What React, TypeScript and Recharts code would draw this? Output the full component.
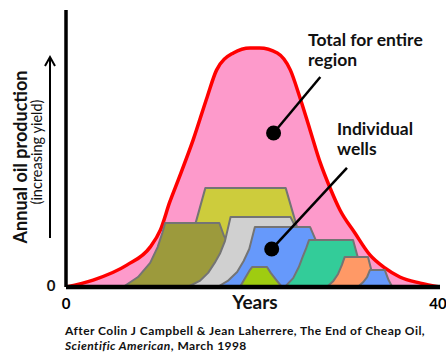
import React from 'react';
import { ComposedChart, Area, XAxis, YAxis, ReferenceLine, ReferenceDot } from 'recharts';

// [year, production] pairs
const totalRegion: number[][] = [
  [0, 0], [2.9, 2.5], [6.5, 7.9], [9.0, 14.4], [10.1, 20.6], [11.1, 30.7], [12.0, 38.6],
  [13.6, 53.1], [15.1, 68.6], [16.1, 78.3], [17.9, 84.5], [19.7, 86.3], [20.7, 86.3],
  [22.6, 84.5], [24.0, 78.3], [25.0, 68.6], [26.1, 56.7], [27.2, 44.8], [28.2, 36.1],
  [29.3, 27.8], [30.9, 19.5], [32.5, 11.6], [34.1, 6.9], [35.7, 3.6], [37.9, 1.4], [40, 0],
];
const yellowWell: number[][] = [[13.6, 19.9], [14.9, 35.7], [23.5, 35.7], [24.7, 21.7], [24.9, 18.8]];
const oliveWell: number[][] = [
  [6.1, 0], [7.7, 3.6], [9.0, 8.7], [9.8, 14.4], [10.3, 19.5], [10.6, 23.1], [16.4, 23.1],
  [16.9, 18.4], [18.6, 9.7], [19.5, 0],
];
const grayWell: number[][] = [
  [13.0, 0], [14.3, 2.2], [15.2, 5.1], [15.9, 8.7], [16.5, 12.3], [17.0, 16.6], [17.3, 20.9],
  [17.6, 25.3], [24.0, 25.3], [24.6, 21.3], [25.0, 17.0],
];
const blueWell: number[][] = [
  [16.2, 0], [17.3, 2.2], [18.3, 5.4], [19.0, 9.4], [19.6, 13.7], [19.9, 17.7], [20.2, 21.7],
  [26.1, 21.7], [26.7, 17.0], [27.4, 11.6], [27.8, 0],
];
const limeWell: number[][] = [
  [18.6, 0], [19.1, 2.9], [19.6, 5.8], [19.9, 7.2], [21.5, 7.2], [21.9, 5.1], [22.5, 2.5], [23.1, 0],
];
const tealWell: number[][] = [
  [23.4, 0], [24.3, 3.2], [24.9, 7.2], [25.3, 10.8], [25.7, 14.1], [26.0, 17.0], [30.7, 17.0],
  [31.2, 10.8], [31.6, 7.2], [31.8, 0],
];
const orangeWell: number[][] = [
  [27.9, 0], [28.6, 2.2], [29.1, 4.7], [29.5, 7.9], [29.8, 10.8], [32.3, 10.8], [32.6, 6.9],
  [32.9, 3.2], [33.2, 0],
];
const lastWell: number[][] = [[31.2, 0], [31.8, 1.8], [32.2, 3.6], [32.5, 6.1], [34.1, 6.1], [34.5, 2.5], [34.9, 0]];

const xTicks = [0, 40];
const totalPointer = { dot: [22.2, 55.6], end: [27.2, 75.8] };
const wellsPointer = { dot: [22.0, 13.7], end: [30.05, 43.0] };

const toRows = (pts: number[][]) => pts.map(([x, y]) => ({ x, y }));

const FONT = 'Lato, "Open Sans", sans-serif';
const OUTLINE = '#747474';

const wells = [
  { name: 'yellow', pts: yellowWell, fill: '#cdcc3c' },
  { name: 'olive', pts: oliveWell, fill: '#9c9a3c' },
  { name: 'gray', pts: grayWell, fill: '#d0d0d0' },
  { name: 'blue', pts: blueWell, fill: '#6699fb' },
  { name: 'lime', pts: limeWell, fill: '#9fcc10' },
  { name: 'teal', pts: tealWell, fill: '#33cc99' },
  { name: 'orange', pts: orangeWell, fill: '#ff9966' },
  { name: 'last', pts: lastWell, fill: '#6699fb' },
];

const XTick = (props: any) => {
  const { x, y, payload } = props;
  return (
    <text x={x} y={y + 22} textAnchor="middle" fontFamily={FONT} fontWeight={700} fontSize={15} fill="#000">
      {payload.value}
    </text>
  );
};

export default function App() {
  return (
    <div style={{ position: 'absolute', left: 0, top: 0, width: 446, height: 353, background: '#fff' }}>
      <ComposedChart width={446} height={353} margin={{ top: 10, right: 6, bottom: 36, left: 56 }}>
        <XAxis
          type="number"
          dataKey="x"
          domain={[0, 40]}
          ticks={xTicks}
          allowDataOverflow
          tickLine={false}
          tickSize={0}
          tickMargin={0}
          height={30}
          axisLine={{ stroke: '#000', strokeWidth: 4.5 }}
          tick={<XTick />}
        />
        <YAxis
          type="number"
          domain={[0, 100]}
          width={10}
          tick={false}
          tickLine={false}
          axisLine={{ stroke: '#000', strokeWidth: 3.5 }}
        />
        <Area
          data={toRows(totalRegion)}
          dataKey="y"
          type="monotone"
          fill="#fd9acb"
          fillOpacity={1}
          stroke="#ff0000"
          strokeWidth={3.5}
          dot={false}
          activeDot={false}
          isAnimationActive={false}
        />
        {wells.map((w) => (
          <Area
            key={w.name}
            data={toRows(w.pts)}
            dataKey="y"
            type="linear"
            fill={w.fill}
            fillOpacity={1}
            stroke={OUTLINE}
            strokeWidth={2}
            strokeLinejoin="round"
            dot={false}
            activeDot={false}
            isAnimationActive={false}
          />
        ))}
        <ReferenceLine
          segment={[{ x: totalPointer.dot[0], y: totalPointer.dot[1] }, { x: totalPointer.end[0], y: totalPointer.end[1] }]}
          stroke="#000"
          strokeWidth={2.5}
        />
        <ReferenceLine
          segment={[{ x: wellsPointer.dot[0], y: wellsPointer.dot[1] }, { x: wellsPointer.end[0], y: wellsPointer.end[1] }]}
          stroke="#000"
          strokeWidth={2.5}
        />
        <ReferenceDot x={totalPointer.dot[0]} y={totalPointer.dot[1]} r={7.5} fill="#000" stroke="none" />
        <ReferenceDot x={wellsPointer.dot[0]} y={wellsPointer.dot[1]} r={7.5} fill="#000" stroke="none" />
      </ComposedChart>
      <svg width={446} height={353} style={{ position: 'absolute', left: 0, top: 0, pointerEvents: 'none' }}>
        <g fontFamily={FONT} fill="#111">
          <text x={308} y={46} fontSize={17.5} fontWeight={700}>Total for entire</text>
          <text x={308} y={66} fontSize={17.5} fontWeight={700}>region</text>
          <text x={337} y={135} fontSize={17.5} fontWeight={700}>Individual</text>
          <text x={337} y={155} fontSize={17.5} fontWeight={700}>wells</text>
          <text x={0} y={0} fontSize={18} fontWeight={700} textAnchor="middle" transform="translate(27,157) rotate(-90)">
            Annual oil production
          </text>
          <text x={0} y={0} fontSize={14.5} textAnchor="middle" transform="translate(42,152) rotate(-90)">
            (increasing yield)
          </text>
          <text x={51} y={291} fontSize={15} fontWeight={700} textAnchor="middle">0</text>
          <text x={255} y={309} fontSize={19} fontWeight={700} textAnchor="middle">Years</text>
          <text x={65} y={335} fontSize={12} fontWeight={700} letterSpacing={0.45}>
            After Colin J Campbell &amp; Jean Laherrere, The End of Cheap Oil,
          </text>
          <text x={65} y={350} fontSize={12} fontWeight={700} letterSpacing={0.45}>
            <tspan fontStyle="italic">Scientific American</tspan>, March 1998
          </text>
        </g>
        <g stroke="#000" strokeWidth={2} fill="none">
          <line x1={50} y1={238} x2={50} y2={58} />
          <polyline points="45,66 50,57 55,66" />
        </g>
      </svg>
    </div>
  );
}
